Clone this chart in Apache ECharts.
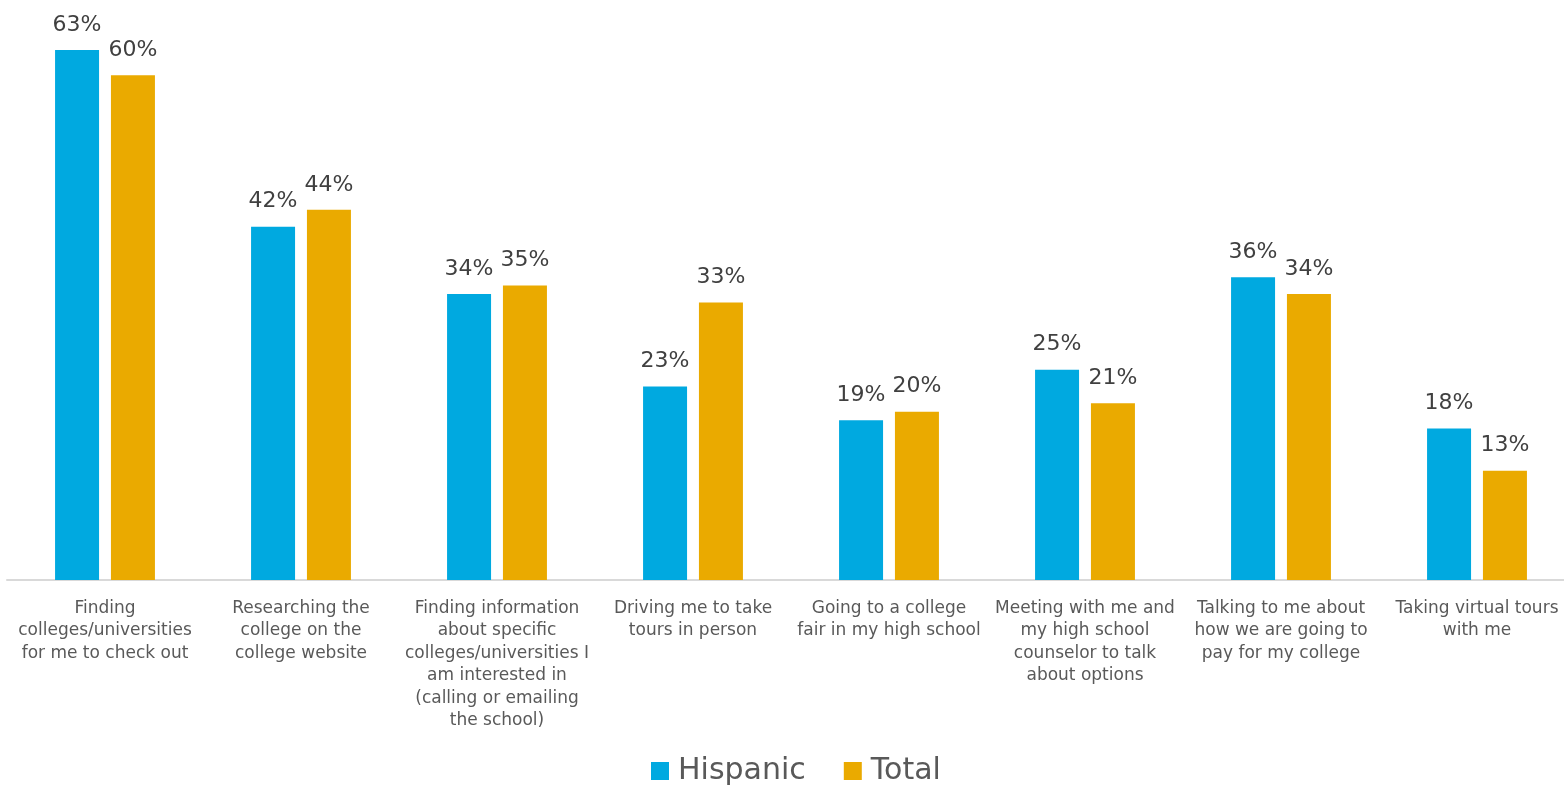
<!DOCTYPE html>
<html>
<head>
<meta charset="utf-8">
<script src="https://cdn.jsdelivr.net/npm/echarts@6/dist/echarts.min.js"></script>
<style>html,body{margin:0;padding:0;background:#fff;}#c{width:1564px;height:789px;}</style>
</head>
<body>
<div id="c"></div>
<script>
const categories = [
  "Finding\ncolleges/universities\nfor me to check out",
  "Researching the\ncollege on the\ncollege website",
  "Finding information\nabout specific\ncolleges/universities I\nam interested in\n(calling or emailing\nthe school)",
  "Driving me to take\ntours in person",
  "Going to a college\nfair in my high school",
  "Meeting with me and\nmy high school\ncounselor to talk\nabout options",
  "Talking to me about\nhow we are going to\npay for my college",
  "Taking virtual tours\nwith me"
];
const hispanic = [63, 42, 34, 23, 19, 25, 36, 18];
const total = [60, 44, 35, 33, 20, 21, 34, 13];
const seriesNames = ["Hispanic", "Total"];

const FONT = "'DejaVu Sans', sans-serif";
const chart = echarts.init(document.getElementById('c'));
const labelStyle = {
  show: true, position: 'top', distance: 14,
  formatter: p => p.value + '%',
  fontSize: 22, color: '#404040', fontFamily: FONT
};
chart.setOption({
  animation: false,
  textStyle: { fontFamily: FONT },
  grid: { left: 7, width: 1568, top: 50, bottom: 209, containLabel: false, outerBoundsMode: 'none' },
  legend: {
    data: seriesNames, left: 651, top: 756, padding: 0,
    itemWidth: 18, itemHeight: 18, itemGap: 38,
    icon: 'rect',
    textStyle: { fontSize: 30, color: '#595959', fontFamily: FONT, padding: [0, 0, 0, 4] }
  },
  xAxis: {
    type: 'category', data: categories,
    axisLine: { lineStyle: { color: '#d9d9d9', width: 2 } },
    axisTick: { show: false },
    axisLabel: { interval: 0, fontSize: 17, color: '#595959', lineHeight: 22.5, margin: 17, fontFamily: FONT }
  },
  yAxis: { type: 'value', min: 0, max: 63, show: false, splitLine: { show: false } },
  series: [
    { name: seriesNames[0], type: 'bar', data: hispanic, barWidth: 44, barGap: '27%',
      itemStyle: { color: '#00A9E0' }, label: labelStyle },
    { name: seriesNames[1], type: 'bar', data: total, barWidth: 44, barGap: '27%',
      itemStyle: { color: '#EAAA00' }, label: labelStyle }
  ]
});
</script>
</body>
</html>
